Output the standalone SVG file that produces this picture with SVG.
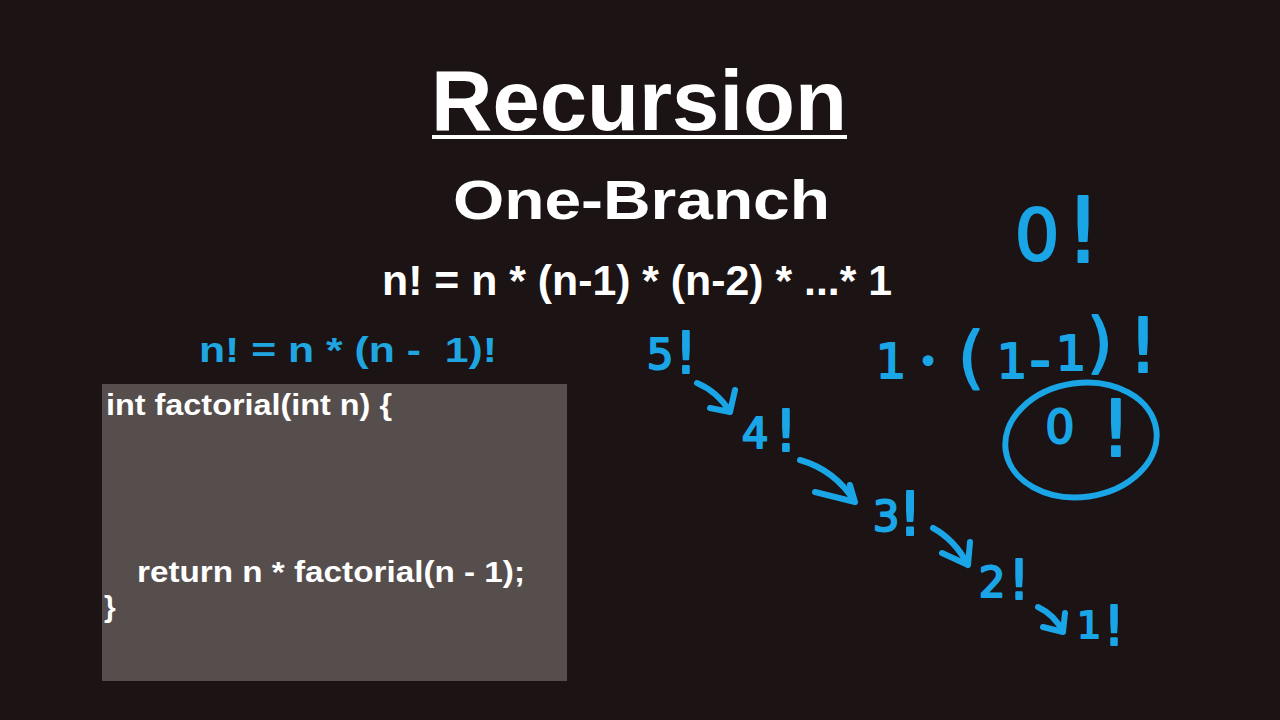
<svg xmlns="http://www.w3.org/2000/svg" width="1280" height="720" viewBox="0 0 1280 720">
<style>
.w{font-family:"Liberation Sans",Arial,sans-serif;font-weight:bold;fill:#ffffff}
.b{font-family:"Liberation Sans",Arial,sans-serif;font-weight:bold;fill:#1fa6e0}
.h{font-family:"DejaVu Sans","Liberation Sans",sans-serif;fill:#1aa5e6;stroke:#1aa5e6;stroke-width:2;stroke-linejoin:round;text-anchor:middle}
.ink{fill:none;stroke:#1aa5e6;stroke-width:6;stroke-linecap:round;stroke-linejoin:round}
</style>
<rect width="1280" height="720" fill="#1b1314"/>
<g id="title">
<text class="w" x="431" y="130" font-size="86" textLength="416" lengthAdjust="spacingAndGlyphs">Recursion</text>
<rect x="432" y="135" width="415" height="4" fill="#ffffff"/>
</g>
<g id="subtitle">
<text class="w" x="453" y="219" font-size="56" textLength="377" lengthAdjust="spacingAndGlyphs">One-Branch</text>
</g>
<g id="formula">
<text class="w" x="382" y="295" font-size="43" textLength="510" lengthAdjust="spacingAndGlyphs">n! = n * (n-1) * (n-2) * ...* 1</text>
</g>
<g id="recurrence">
<text class="b" x="199" y="362" font-size="35" textLength="298" lengthAdjust="spacingAndGlyphs" xml:space="preserve">n! = n * (n -  1)!</text>
</g>
<g id="code">
<rect x="102" y="384" width="465" height="297" fill="#564e4d"/>
<text class="w" x="106" y="415" font-size="29" textLength="286" lengthAdjust="spacingAndGlyphs">int factorial(int n) {</text>
<text class="w" x="137" y="582" font-size="29" textLength="388" lengthAdjust="spacingAndGlyphs">return n * factorial(n - 1);</text>
<text class="w" x="104" y="617" font-size="30">}</text>
</g>
<g id="n5"><text class="h"><tspan x="660" y="369" font-size="42">5</tspan><tspan x="686" y="373" font-size="57">!</tspan></text></g>
<g id="n4"><text class="h"><tspan x="755" y="448" font-size="42">4</tspan><tspan x="786" y="451" font-size="57">!</tspan></text></g>
<g id="n3"><text class="h"><tspan x="886" y="531" font-size="42">3</tspan><tspan x="910" y="535" font-size="60">!</tspan></text></g>
<g id="n2"><text class="h"><tspan x="992" y="597" font-size="42">2</tspan><tspan x="1019" y="599" font-size="55">!</tspan></text></g>
<g id="n1"><text class="h"><tspan x="1089" y="638" font-size="38">1</tspan><tspan x="1114" y="645" font-size="55">!</tspan></text></g>
<g id="n0top"><text class="h"><tspan x="1037" y="260" font-size="71">0</tspan><tspan x="1083" y="262" font-size="90">!</tspan></text></g>
<g id="expand"><text class="h"><tspan x="891" y="378" font-size="48">1</tspan><tspan x="928" y="372" font-size="30">•</tspan><tspan x="971" y="381" font-size="67">(</tspan><tspan x="1012" y="378" font-size="48">1</tspan><tspan x="1040" y="380" font-size="60">-</tspan><tspan x="1071" y="370" font-size="48">1</tspan><tspan x="1100" y="365" font-size="65">)</tspan><tspan x="1143" y="372" font-size="75">!</tspan></text></g>
<g id="base">
<ellipse class="ink" cx="1081" cy="440" rx="76" ry="57" transform="rotate(-8 1081 440)"/>
<text class="h"><tspan x="1060" y="443" font-size="46">0</tspan><tspan x="1116" y="456" font-size="78">!</tspan></text>
</g>
<g id="connectors">
<path class="ink" d="M697,383 Q718,392 730,412 M735,390 L730,412 L710,408"/>
<path class="ink" d="M800,460 Q835,470 855,502 M850,485 L855,502 L815,492"/>
<path class="ink" d="M933,528 Q955,540 968,565 M970,542 L968,565 L942,553"/>
<path class="ink" d="M1038,607 Q1055,615 1063,632 M1065,613 L1063,632 L1043,627"/>
</g>
</svg>
